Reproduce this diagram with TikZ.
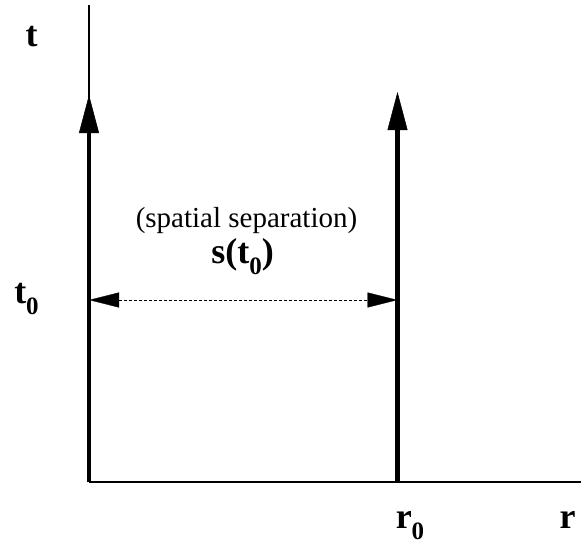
\documentclass[tikz,border=0pt]{standalone}
\usepackage{fontspec}
\setmainfont{Liberation Serif}
\usetikzlibrary{arrows.meta}
\newcommand{\zsub}{\raisebox{-11.5pt}{\fontsize{25}{25}\selectfont 0}}
\tikzset{
  lbl/.style={inner sep=0pt, anchor=base, font=\fontsize{36}{36}\selectfont\bfseries},
  note/.style={inner sep=0pt, anchor=base, font=\fontsize{29}{29}\selectfont},
  axis/.style={line width=1.2pt},
  raxis/.style={line width=2pt},
  world/.style={line width=4.3pt, -{Triangle[length=38pt,width=20pt,line width=0.5pt]}},
  sep/.style={line width=0.9pt, dash pattern=on 3pt off 2pt,
    {Triangle[length=30pt,width=15pt,line width=0.3pt]}-{Triangle[length=30pt,width=15pt,line width=0.3pt]}}
}
\begin{document}
\begin{tikzpicture}[x=1pt,y=-1pt]
\useasboundingbox (0,0) rectangle (581,546);
\coordinate (ttop) at (89,5);
\coordinate (O) at (89,482);
\coordinate (rend) at (581,482);
\coordinate (w1top) at (89,95);
\coordinate (w2bot) at (397.5,482);
\coordinate (w2top) at (397.5,92);
\coordinate (s1) at (89,300);
\coordinate (s2) at (397.5,300);
\draw[axis] (ttop) -- (O);
\draw[raxis] (O) -- (rend);
\draw[world] (O) -- (w1top);
\draw[world] (w2bot) -- (w2top);
\draw[sep] (s1) -- (s2);
\node[lbl] (t) at (31.5,46) {t};
\node[lbl] (t0) at (26.5,303) {t\zsub};
\node[note] (ss) at (246.5,227) {(spatial separation)};
\node[lbl] (st0) at (242.5,263) {s(t\zsub)};
\node[lbl] (r0) at (410,528) {r\zsub};
\node[lbl] (r) at (567.5,528) {r};
\end{tikzpicture}
\end{document}
